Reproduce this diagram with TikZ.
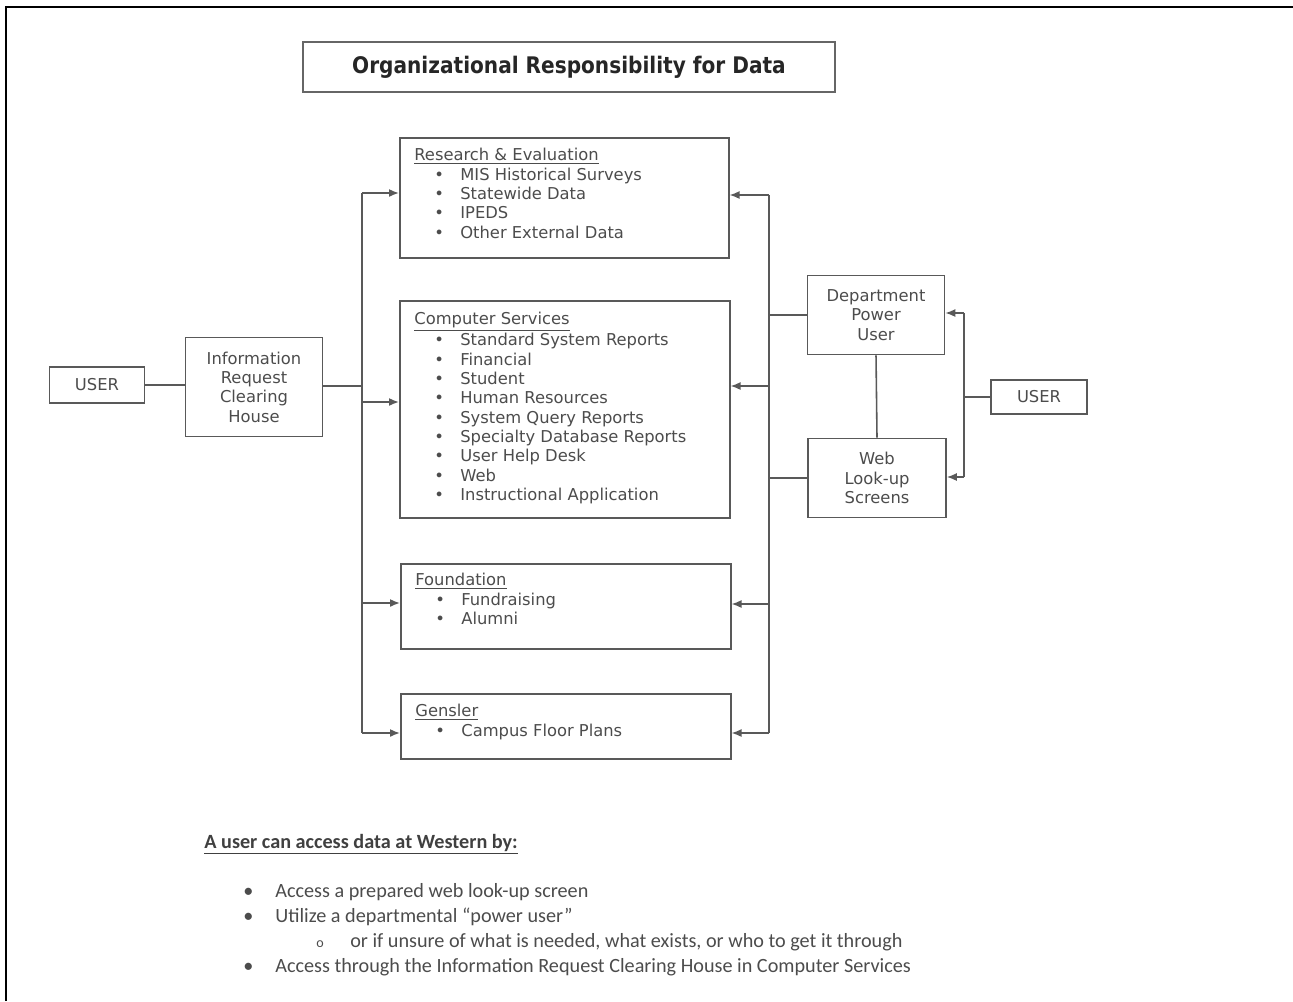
\documentclass[tikz,border=0pt]{standalone}
\usepackage{fontspec}
\usepackage{graphicx}
\setmainfont{DejaVu Sans}
\newfontfamily\calibri[Ligatures=TeX]{Carlito}
\usetikzlibrary{arrows.meta}

\newcommand{\ditem}[1]{\\\hspace*{0.40cm}\makebox[0.52cm][l]{\textbullet}#1}

\begin{document}
\begin{tikzpicture}[x=0.02cm, y=-0.02cm,
  box/.style={draw=black!65, line width=0.9pt, rectangle, align=center, text=black!70, font=\fontsize{9.3}{11}\selectfont},
  listbox/.style={draw=black!65, line width=0.9pt, rectangle, anchor=north west},
  listtxt/.style={anchor=north west, align=left, inner sep=0pt, text=black!70, font=\fontsize{9.3}{11}\selectfont},
  arr/.style={draw=black!65, line width=0.9pt, -{Latex[length=2mm,width=1.6mm]}},
  wire/.style={draw=black!65, line width=0.9pt}]
  \useasboundingbox (0,0) rectangle (1293,1001);
  \draw[line width=1.6pt] (6,1001) -- (6,7) -- (1293,7);

  \node[draw=black!60, line width=0.9pt, minimum width=10.64cm, minimum height=1cm, text=black!85] (title) at (569,67) {\scalebox{0.88}[1]{\fontsize{13}{15}\selectfont\bfseries Organizational Responsibility for Data}};

  % left side
  \node[box, minimum width=1.9cm, minimum height=0.72cm] (userl) at (97,385) {USER};
  \node[box, minimum width=2.74cm, minimum height=1.98cm] (irch) at (254,387) {Information\\Request\\Clearing\\House};

  % data owners
  \node[listbox, minimum width=6.58cm, minimum height=2.4cm] (resev) at (399,137) {};
  \node[listtxt] (resev-txt) at ([shift={(15,11)}]resev.north west) {\underline{Research \& Evaluation}\ditem{MIS Historical Surveys}\ditem{Statewide Data}\ditem{IPEDS}\ditem{Other External Data}};
  \node[listbox, minimum width=6.6cm, minimum height=4.34cm] (compsv) at (399,300) {};
  \node[listtxt] (compsv-txt) at ([shift={(15,12)}]compsv.north west) {\underline{Computer Services}\ditem{Standard System Reports}\ditem{Financial}\ditem{Student}\ditem{Human Resources}\ditem{System Query Reports}\ditem{Specialty Database Reports}\ditem{User Help Desk}\ditem{Web}\ditem{Instructional Application}};
  \node[listbox, minimum width=6.6cm, minimum height=1.7cm] (found) at (400,563) {};
  \node[listtxt] (found-txt) at ([shift={(15,10)}]found.north west) {\underline{Foundation}\ditem{Fundraising}\ditem{Alumni}};
  \node[listbox, minimum width=6.6cm, minimum height=1.3cm] (gens) at (400,693) {};
  \node[listtxt] (gens-txt) at ([shift={(15,11)}]gens.north west) {\underline{Gensler}\ditem{Campus Floor Plans}};

  % right side
  \node[box, minimum width=2.74cm, minimum height=1.58cm] (dept) at (876,315) {Department\\Power\\User};
  \node[box, minimum width=2.76cm, minimum height=1.58cm] (web) at (877,478) {Web\\Look-up\\Screens};
  \node[box, minimum width=1.92cm, minimum height=0.68cm] (userr) at (1039,397) {USER};

  % left bus
  \coordinate (lb1) at (362,193);
  \coordinate (lb2) at (362,402);
  \coordinate (lb3) at (362,603);
  \coordinate (lb4) at (362,733);
  \coordinate (lbin) at (362,386);
  \draw[wire] (userl.east) -- (userl.east -| irch.west);
  \draw[wire] (irch.east |- lbin) -- (lbin);
  \draw[wire] (lb1) -- (lb4);
  \draw[arr] (lb1) -- (lb1 -| resev.west);
  \draw[arr] (lb2) -- (lb2 -| compsv.west);
  \draw[arr] (lb3) -- (lb3 -| found.west);
  \draw[arr] (lb4) -- (lb4 -| gens.west);

  % right bus
  \coordinate (rb1) at (769,195);
  \coordinate (rb2) at (769,386);
  \coordinate (rb3) at (769,604);
  \coordinate (rb4) at (769,733);
  \draw[wire] (rb1) -- (rb4);
  \draw[arr] (rb1) -- (rb1 -| resev.east);
  \draw[arr] (rb2) -- (rb2 -| compsv.east);
  \draw[arr] (rb3) -- (rb3 -| found.east);
  \draw[arr] (rb4) -- (rb4 -| gens.east);
  \draw[wire] (dept.west) -- (dept.west -| rb1);
  \draw[wire] (web.west) -- (web.west -| rb1);
  \draw[wire] (dept.south) -- (web.north);

  % right user
  \coordinate (ru1) at (964,313);
  \coordinate (ru2) at (964,477);
  \draw[wire] (userr.west) -- (userr.west -| ru1);
  \draw[wire] (ru1) -- (ru2);
  \draw[arr] (ru1) -- (ru1 -| dept.east);
  \draw[arr] (ru2) -- (ru2 -| web.east);

  % notes
  \node[anchor=base west, inner sep=0pt, text=black!75, font=\calibri\fontsize{11.5}{14}\selectfont\bfseries] (ways) at (204,848) {\underline{A user can access data at Western by:}};
  \node[anchor=north west, inner sep=0pt, align=left, text=black!70, font=\calibri\fontsize{11.5}{14.2}\selectfont] (ways-list) at (243,883) {\makebox[0.64cm][l]{\textbullet}Access a prepared web look-up screen\\
    \makebox[0.64cm][l]{\textbullet}Utilize a departmental “power user”\\
    \hspace*{1.46cm}\makebox[0.68cm][l]{\footnotesize o}or if unsure of what is needed, what exists, or who to get it through\\
    \makebox[0.64cm][l]{\textbullet}Access through the Information Request Clearing House in Computer Services};
\end{tikzpicture}
\end{document}
